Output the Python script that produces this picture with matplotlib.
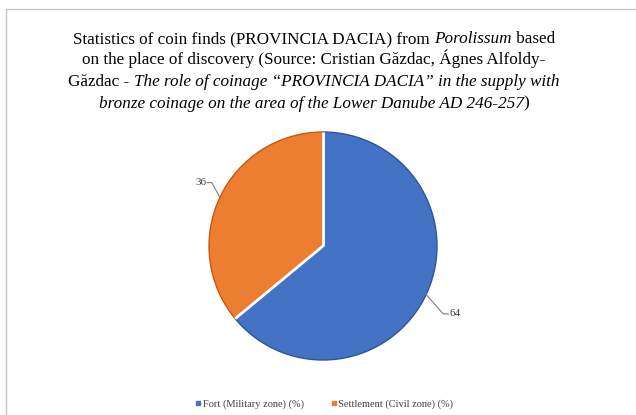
import matplotlib
matplotlib.use("Agg")
import matplotlib.pyplot as plt
import numpy as np
from matplotlib.patches import Rectangle
from matplotlib.lines import Line2D

plt.rcParams["font.family"] = ["Liberation Serif", "DejaVu Serif"]

# Data
categories = ["Fort (Military zone) (%)", "Settlement (Civil zone) (%)"]
values = [64, 36]
colors = ["#4472C4", "#ED7D31"]
edge_colors = ["#2F5597", "#C55A11"]

# Title: each line is a list of (text, italic) segments
title_lines = [
    [("Statistics of coin finds (PROVINCIA DACIA) from ", False), ("Porolissum", True), (" based", False)],
    [("on the place of discovery (Source: Cristian Găzdac, Ágnes Alfoldy-", False)],
    [("Găzdac - ", False), ("The role of coinage \u201cPROVINCIA DACIA\u201d in the supply with", True)],
    [("bronze coinage on the area of the Lower Danube AD 246-257", True), (")", False)],
]

W, H = 636, 415
fig = plt.figure(figsize=(W / 100, H / 100), dpi=100)
fig.patch.set_facecolor("white")

# Chart area border
fig.patches.append(Rectangle((6 / W, -0.1), 1.2, 1.1 - 9 / H, transform=fig.transFigure,
                             fill=False, edgecolor="#c8c8c8", linewidth=1.0))

# Title, centered line by line with mixed styles
renderer = fig.canvas.get_renderer()
title_size = 12.3
cx = 314
baselines = [43, 64.5, 86, 107.5]
for segs, base in zip(title_lines, baselines):
    y = 1 - base / H
    texts = []
    for s, it in segs:
        t = fig.text(0, y, s, fontsize=title_size, fontfamily="Liberation Serif",
                     style="italic" if it else "normal", va="baseline", ha="left", color="#000000")
        texts.append(t)
    widths = [t.get_window_extent(renderer).width for t in texts]
    x = cx - sum(widths) / 2
    for t, w in zip(texts, widths):
        t.set_x(x / W)
        x += w

# Pie
cxp, cyp, r = 323, 246, 114
ax = fig.add_axes([(cxp - r) / W, (H - cyp - r) / H, 2 * r / W, 2 * r / H])
wedges, _ = ax.pie(values, colors=colors, startangle=90, counterclock=False, radius=1,
                   wedgeprops=dict(linewidth=1.0))
for w, ec in zip(wedges, edge_colors):
    w.set_edgecolor(ec)
# white separators between slices
for w in wedges:
    a = np.deg2rad(w.theta1)
    ax.plot([0, np.cos(a)], [0, np.sin(a)], color="white", linewidth=2.0, solid_capstyle="butt")
ax.set_xlim(-1, 1)
ax.set_ylim(-1, 1)
ax.set_aspect("equal")
ax.axis("off")

# Data labels with leader lines
label_offsets = [
    # (elbow offset from edge point, horizontal run, alignment)
    ((0.15, -0.17), 0.045, "left"),
    ((-0.07, 0.13), -0.04, "right"),
]
for w, v, (off, hx, ha) in zip(wedges, values, label_offsets):
    ang = np.deg2rad((w.theta1 + w.theta2) / 2)
    px, py = np.cos(ang), np.sin(ang)
    ex, ey = px + off[0], py + off[1]
    hx2 = ex + hx
    ax.plot([px, ex, hx2], [py, ey, ey], color="#7f7f7f", linewidth=0.8, clip_on=False)
    ax.text(hx2 + (0.01 if ha == "left" else -0.01), ey, str(v), ha=ha, va="center",
            fontsize=8, color="#404040", clip_on=False)

# Legend
handles = [Line2D([], [], marker="s", linestyle="none", markersize=3.5, markerfacecolor=c,
                  markeredgecolor=c) for c in colors]
fig.legend(handles, categories, loc="center", bbox_to_anchor=(323 / W, 1 - 404 / H), ncol=2,
           frameon=False, prop=dict(size=7.5), handletextpad=-0.1,
           columnspacing=2.4, handlelength=1.0, labelcolor="#404040")

fig.savefig("out.png", dpi=100, facecolor="white")
